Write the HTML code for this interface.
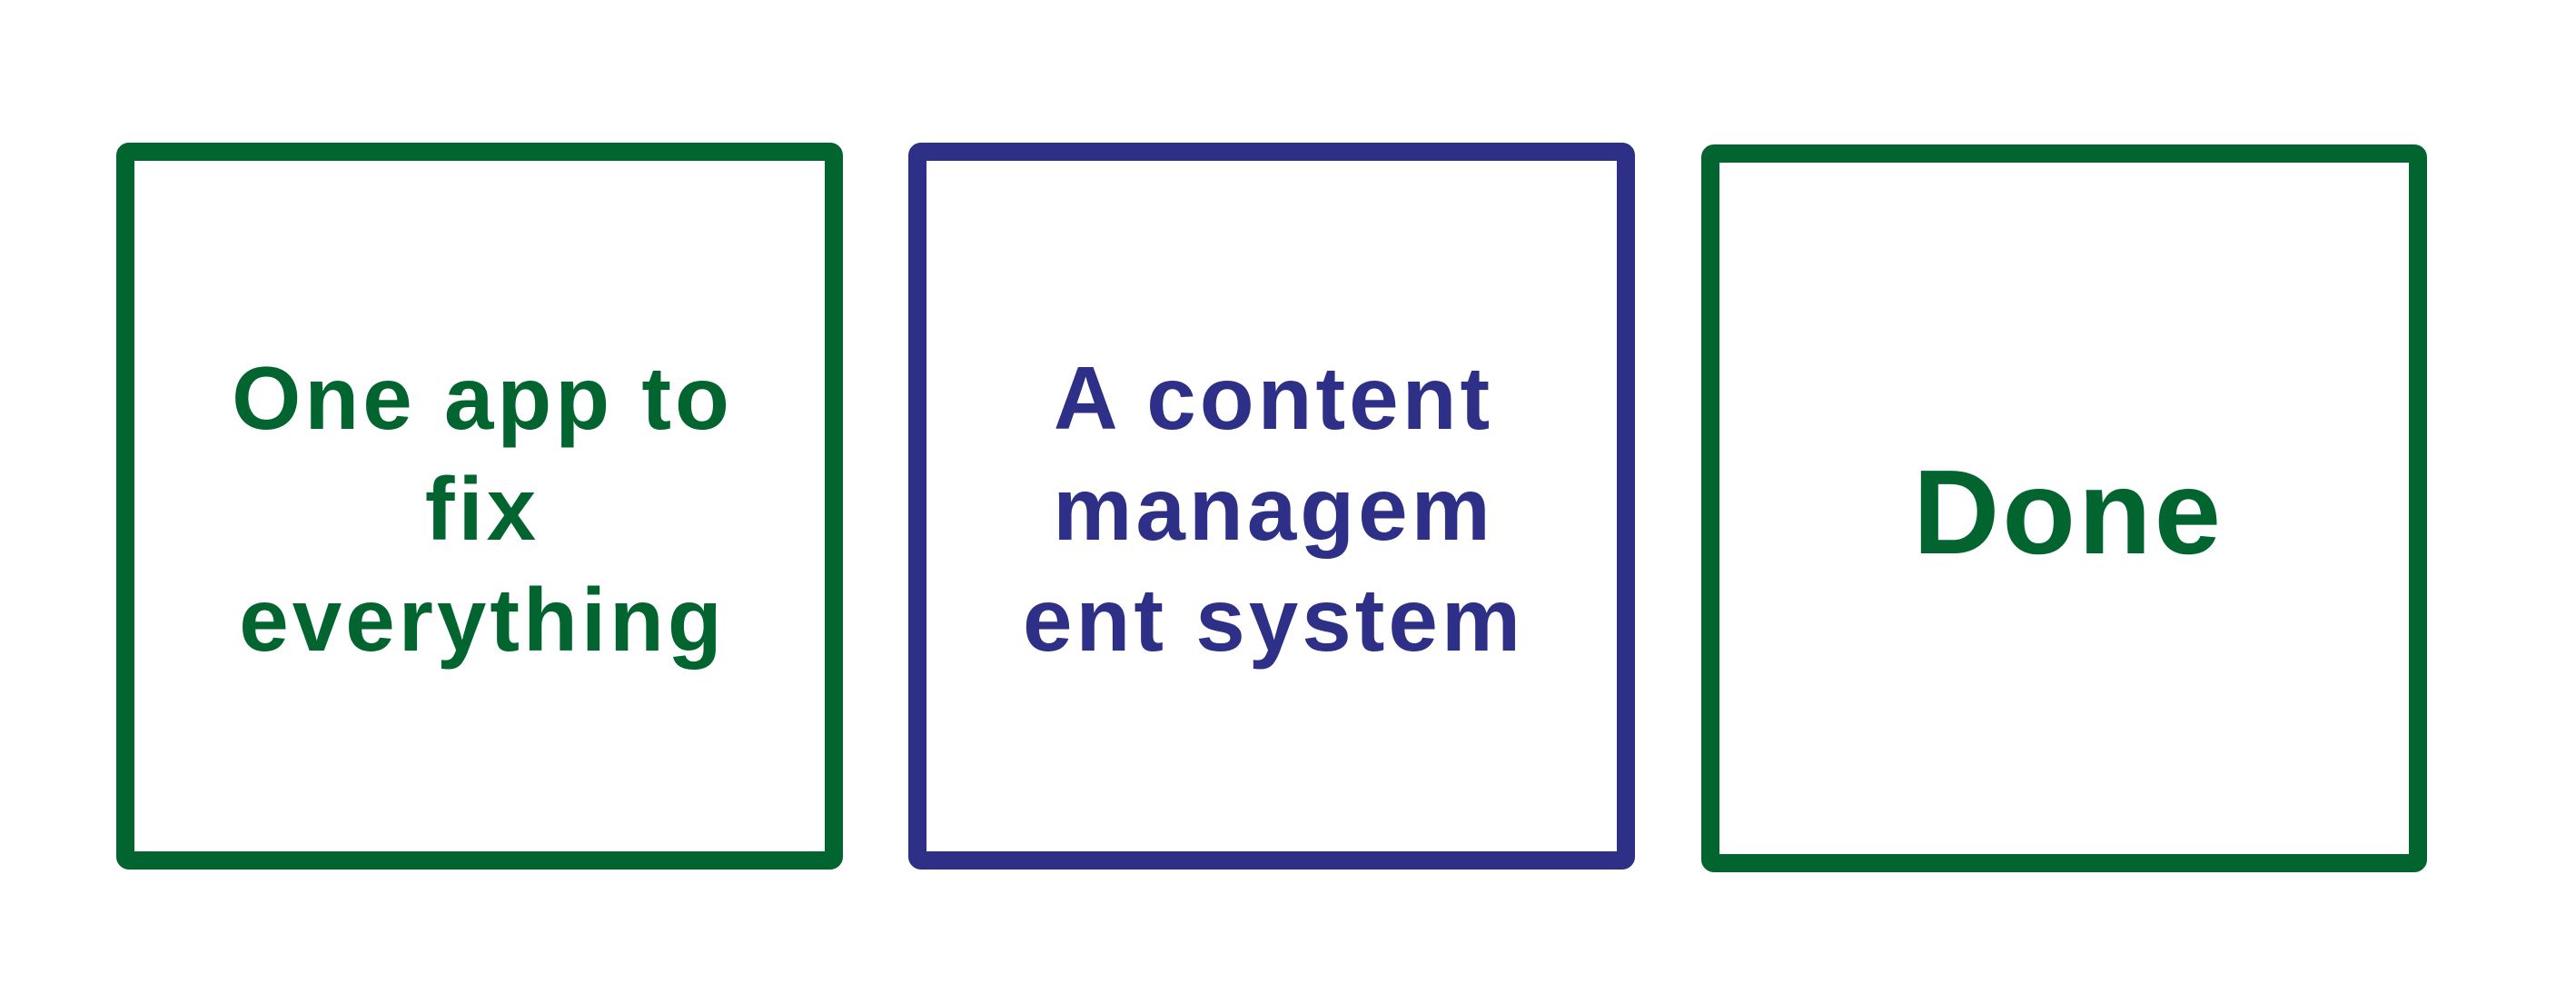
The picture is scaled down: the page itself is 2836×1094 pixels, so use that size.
<!DOCTYPE html>
<html><head><meta charset="utf-8"><style>
html,body{margin:0;padding:0;background:#fff;}
svg{display:block;}
text{font-family:"Liberation Sans",sans-serif;font-weight:bold;text-anchor:middle;}
</style></head><body>
<svg width="2836" height="1094" viewBox="0 0 2836 1094" xmlns="http://www.w3.org/2000/svg">
<rect x="0" y="0" width="2836" height="1094" fill="#fff"/>
<rect x="138" y="167" width="780" height="780" rx="4" fill="none" stroke="#02652f" stroke-width="20"/>
<rect x="1010" y="167" width="780" height="780" rx="4" fill="none" stroke="#2e2f86" stroke-width="20"/>
<rect x="1883" y="169" width="779" height="781" rx="4" fill="none" stroke="#02652f" stroke-width="20"/>
<g fill="#02652f" font-size="98" letter-spacing="4">
<text x="531" y="472">One app to</text>
<text x="531" y="594">fix</text>
<text x="531" y="716">everything</text>
</g>
<g fill="#2e2f86" font-size="98" letter-spacing="4">
<text x="1402" y="472">A content</text>
<text x="1402" y="594">managem</text>
<text x="1402" y="716">ent system</text>
</g>
<text x="2277" y="609" fill="#02652f" font-size="132" letter-spacing="3">Done</text>
</svg>
</body></html>
